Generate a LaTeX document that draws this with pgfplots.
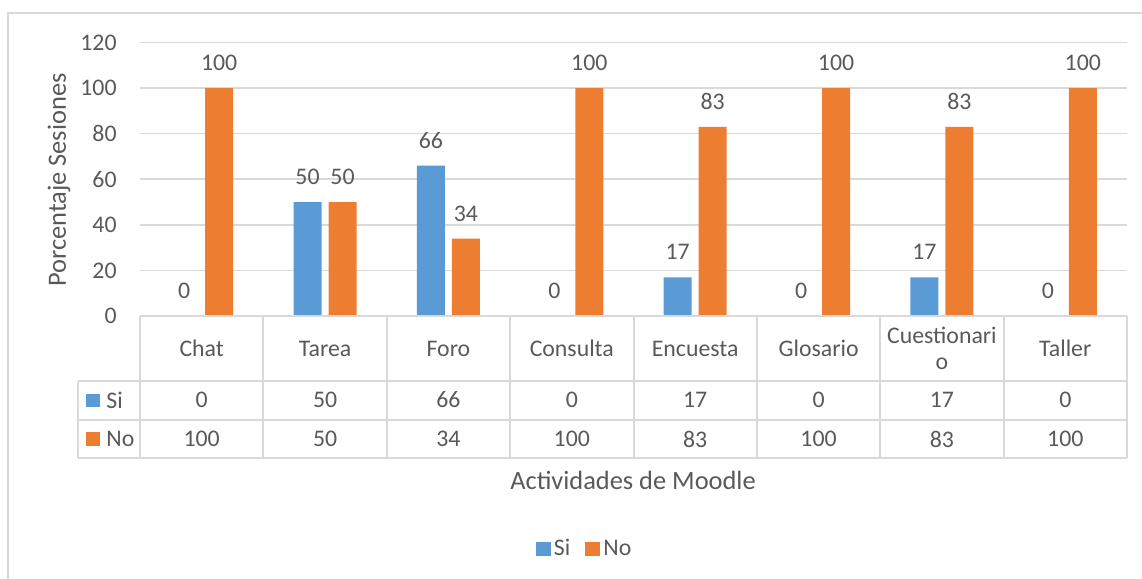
\documentclass[border=0pt]{standalone}
\usepackage{fontspec}
\setmainfont{Carlito}
\usepackage{pgfplots}
\pgfplotsset{compat=1.18}
\definecolor{cblue}{HTML}{5B9BD5}
\definecolor{corange}{HTML}{ED7D31}
\definecolor{ctext}{HTML}{595959}
\definecolor{cgrid}{HTML}{D9D9D9}
\newcommand{\fs}{\fontsize{11.9}{13}\selectfont}
\newcommand{\ft}{\fontsize{13.2}{15}\selectfont}
\begin{document}
\begin{tikzpicture}[font=\fs]
\useasboundingbox (0,0) rectangle (571pt,-289.5pt);
\begin{axis}[
  at={(70pt,-158pt)}, anchor=south west, scale only axis,
  width=493.5pt, height=136.75pt,
  xmin=-0.5, xmax=7.5, ymin=0, ymax=120,
  ytick={0,20,...,120},
  xtick={0,...,7},
  xticklabels={Chat,Tarea,Foro,Consulta,Encuesta,Glosario,{Cuestionari\\o},Taller},
  tick label style={font=\fs, text=ctext},
  xticklabel style={anchor=center, yshift=-16.25pt, align=center},
  yticklabel style={anchor=east, inner sep=0pt, xshift=-11.5pt},
  /pgf/number format/assume math mode=true,
  axis line style={draw=none},
  major tick length=0pt,
  ymajorgrids, grid style={cgrid, line width=0.8pt},
  ybar, bar width=14pt,
  nodes near coords,
  nodes near coords style={anchor=center, yshift=12.5pt, text=ctext, font=\fs},
  legend image code/.code={\fill[#1] (0pt,-3.6pt) rectangle (7.5pt,3.6pt);},
  legend style={at={(0.451,-0.852)}, anchor=center, draw=none, fill=none,
    legend columns=2, font=\fs, text=ctext,
    nodes={inner sep=1.5pt},
    /tikz/every even column/.append style={column sep=6pt}},
]
\addplot[fill=cblue, draw=none, bar shift=-8.75pt] coordinates {(0,0) (1,50) (2,66) (3,0) (4,17) (5,0) (6,17) (7,0)};
\addplot[fill=corange, draw=none, bar shift=8.75pt] coordinates {(0,100) (1,50) (2,34) (3,100) (4,83) (5,100) (6,83) (7,100)};
\legend{Si,No}
\end{axis}
\begin{scope}[x=0.5pt, y=-0.5pt]
\draw[cgrid, line width=0.8pt] (8,579) -- (8,13) -- (1142,13);
\begin{scope}[cgrid, line width=1pt]
\draw (140,316) -- (1127,316);
\draw (78,381) -- (1127,381);
\draw (78,420) -- (1127,420);
\draw (78,458) -- (1127,458);
\draw (78,381) -- (78,458);
\foreach \i in {0,...,8} \draw ({140+123.375*\i},316) -- ({140+123.375*\i},458);
\end{scope}
\fill[cblue] (86,394) rectangle (100,407);
\node[anchor=west, inner sep=0pt, text=ctext] at (106,400) {Si};
\fill[corange] (86,432) rectangle (100,446);
\node[anchor=west, inner sep=0pt, text=ctext] at (106,439) {No};
\foreach \v [count=\i from 0] in {0,50,66,0,17,0,17,0}
  \node[text=ctext] at ({201.7+123.375*\i},400) {\v};
\foreach \v [count=\i from 0] in {100,50,34,100,83,100,83,100}
  \node[text=ctext] at ({201.7+123.375*\i},439) {\v};
\node[text=ctext, font=\ft] at (633,480) {Actividades de Moodle};
\node[text=ctext, rotate=90, font=\ft] at (59,180) {Porcentaje Sesiones};
\end{scope}
\end{tikzpicture}
\end{document}
